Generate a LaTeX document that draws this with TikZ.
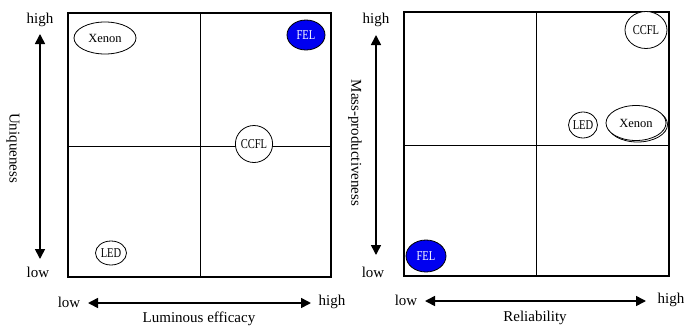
\documentclass[tikz,border=0pt]{standalone}
\usepackage{fontspec}
\setmainfont{Liberation Serif}
\newfontfamily\narrowfont[FakeStretch=0.78]{Liberation Serif}
\usetikzlibrary{arrows.meta,shapes.geometric,shadows,positioning}
\definecolor{felblue}{HTML}{0000F0}

\begin{document}
\begin{tikzpicture}[x=1pt, y=-1pt,
    panel/.style={draw, line width=1.1pt},
    divider/.style={line width=0.7pt},
    axis/.style={{Triangle[length=10pt,width=10pt]}-{Triangle[length=10pt,width=10pt]}, line width=1.6pt},
    axislabel/.style={font=\fontsize{15}{17}\selectfont, inner sep=0pt},
    lamp/.style={ellipse, draw, line width=0.8pt, inner sep=0pt, fill=white,
                 font=\narrowfont\fontsize{13.5}{15}\selectfont},
    xenon/.style={lamp, font=\fontsize{12.5}{14}\selectfont},
    fel/.style={lamp, fill=felblue, draw=black, text=white}
]
    \useasboundingbox (0,0) rectangle (686,327);

    % Left panel: uniqueness vs. luminous efficacy
    \draw[panel] (68,13) rectangle (331,277);
    \draw[divider] (200,13) -- (200,277);
    \draw[divider] (68,146) -- (331,146);

    \node[xenon, minimum width=62pt, minimum height=32pt] (xenonL) at (105,38) {Xenon};
    \node[fel, minimum width=38pt, minimum height=30pt] (felL) at (306,35) {FEL};
    \node[lamp, minimum width=35pt, minimum height=37pt] (ccflL) at (254,144) {CCFL};
    \node[lamp, minimum width=31pt, minimum height=24pt] (ledL) at (111,253) {LED};

    % Left axes
    \node[axislabel] (uhigh) at (40,20) {high};
    \node[axislabel] (ulow) at (38,272) {low};
    \coordinate (utop) at (40,34);
    \coordinate (ubot) at (40,259);
    \draw[axis] (utop) -- (ubot);
    \node[axislabel, rotate=-90] (unique) at (13,148) {Uniqueness};

    \node[axislabel] (lelow) at (69,302) {low};
    \node[axislabel] (lehigh) at (332,302) {high};
    \coordinate (leleft) at (88,303);
    \coordinate (leright) at (311,303);
    \draw[axis] (leleft) -- (leright);
    \node[axislabel] (lumeff) at (199,319) {Luminous efficacy};

    % Right panel: mass-productiveness vs. reliability
    \draw[panel] (404,12) rectangle (669,276);
    \draw[divider] (536,12) -- (536,276);
    \draw[divider] (404,145) -- (669,145);

    \node[lamp, minimum width=42pt, minimum height=37pt] (ccflR) at (646,30) {CCFL};
    \node[lamp, minimum width=27pt, minimum height=26pt] (ledR) at (583,125) {LED};
    \node[xenon, minimum width=60pt, minimum height=35pt,
          copy shadow={shadow xshift=1.5pt, shadow yshift=-1.5pt}] (xenonR) at (636,123) {Xenon};
    \node[fel, minimum width=40pt, minimum height=32pt] (felR) at (426,256) {FEL};

    % Right axes
    \node[axislabel] (mhigh) at (376,20) {high};
    \node[axislabel] (mlow) at (373,272) {low};
    \coordinate (mtop) at (376,35);
    \coordinate (mbot) at (376,255);
    \draw[axis] (mtop) -- (mbot);
    \node[axislabel, rotate=-90] (massprod) at (355,143) {Mass-productiveness};

    \node[axislabel] (rlow) at (406,300) {low};
    \node[axislabel] (rhigh) at (671,300) {high};
    \coordinate (rleft) at (425,301);
    \coordinate (rright) at (646,301);
    \draw[axis] (rleft) -- (rright);
    \node[axislabel] (reliab) at (535,318) {Reliability};
\end{tikzpicture}
\end{document}
